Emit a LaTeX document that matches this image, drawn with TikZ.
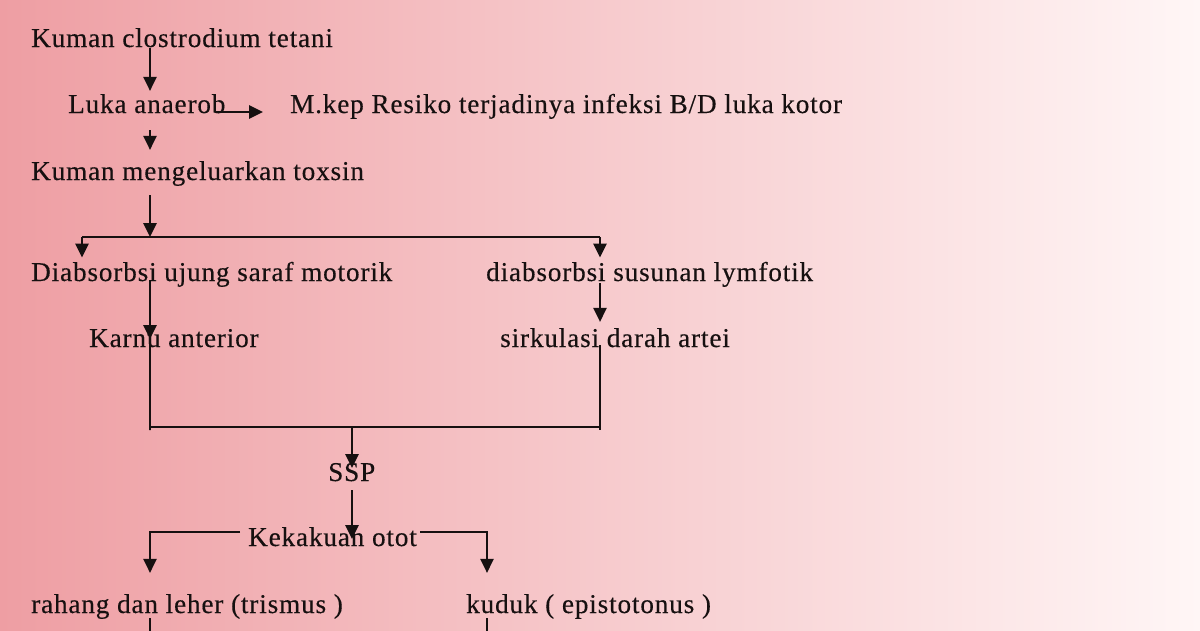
\documentclass[tikz,border=0pt]{standalone}
\usepackage{fontspec}
\setmainfont[LetterSpace=3.1,FakeBold=0.3]{Liberation Serif}
\usetikzlibrary{arrows.meta,calc}
\definecolor{bgL}{RGB}{238,158,163}
\definecolor{bgM}{RGB}{245,195,198}
\definecolor{bgR}{RGB}{255,246,246}
\definecolor{ink}{RGB}{22,16,16}
\begin{document}
\begin{tikzpicture}[x=1pt,y=-1pt,
  lbl/.style={anchor=base west, inner sep=0pt, font=\fontsize{27.2}{32}\selectfont, text=ink},
  arr/.style={draw=ink, line width=2.6pt, -{Triangle[length=14pt,width=13pt]}},
  thickline/.style={draw=ink, line width=2.6pt},
  thinline/.style={draw=ink, line width=1.5pt}]
\useasboundingbox (0,0) rectangle (1200,630);
\shade[left color=bgL, middle color=bgM, right color=bgR] (0,0) rectangle (1200,630);

% texts
\node[lbl] (k1)    at (31,47)   {Kuman clostrodium tetani};
\node[lbl] (luka)  at (68,113)  {Luka anaerob};
\node[lbl] (mkep)  at (290,113) {M.kep Resiko terjadinya infeksi B/D luka kotor};
\node[lbl] (k2)    at (31,180)  {Kuman mengeluarkan toxsin};
\node[lbl] (dab)   at (31,281)  {Diabsorbsi ujung saraf motorik};
\node[lbl] (dsus)  at (486,281) {diabsorbsi susunan lymfotik};
\node[lbl] (karnu) at (89,347)  {Karnu anterior};
\node[lbl] (sirk)  at (500,347) {sirkulasi darah artei};
\node[lbl] (ssp)   at (328,481) {SSP};
\node[lbl] (kek)   at (248,546) {Kekakuan otot};
\node[lbl] (rah)   at (31,613)  {rahang dan leher (trismus )};
\node[lbl] (kud)   at (466,613) {kuduk ( epistotonus )};

% junction coordinates
\coordinate (xa) at (150,0);
\coordinate (xe) at (487,0);
\coordinate (h1) at (216,112);
\coordinate (j1) at (150,237);
\coordinate (jl) at (82,237);
\coordinate (jr) at (600,237);
\coordinate (bl) at (150,427);
\coordinate (bm) at (352,427);
\coordinate (br) at (600,427);
\coordinate (el) at (240,532);
\coordinate (er) at (420,532);
\coordinate (endl) at (150,632);
\coordinate (endr) at (487,632);

% connectors
\draw[arr] ($(k1.base -| xa)+(0,1)$) -- ($(luka.north -| xa)+(0,-3)$);
\draw[arr] (h1) -- ($(mkep.base west)+(-27,-1)$);
\draw[arr] ($(luka.base -| xa)+(0,17)$) -- ($(k2.north -| xa)+(0,-11)$);
\draw[arr] ($(k2.base -| xa)+(0,15)$) -- (j1);
\draw[thinline] (jl) -- (jr);
\draw[arr] (jl) -- ($(dab.north -| jl)+(0,-4)$);
\draw[arr] (jr) -- ($(dsus.north -| jr)+(0,-4)$);

\draw[arr] ($(dab.base -| xa)+(0,-1)$) -- ($(karnu.base -| xa)+(0,-8)$);
\draw[arr] ($(dsus.base -| jr)+(0,2)$) -- ($(sirk.north -| jr)+(0,-6)$);
\draw[thinline] ($(karnu.base -| xa)+(0,-8)$) -- ($(bl)+(0,3)$) -- (bl) -- (br) -- ($(br)+(0,3)$);
\draw[thinline] ($(sirk.base -| br)+(0,-2)$) -- (br);

\draw[arr] (bm) -- ($(ssp.base -| bm)+(0,-13)$);
\draw[arr] ($(ssp.base -| bm)+(0,9)$) -- ($(kek.base -| bm)+(0,-7)$);
\draw[arr] (el) -| ($(rah.north -| xa)+(0,-21)$);
\draw[arr] (er) -| ($(kud.north -| xe)+(0,-21)$);

\draw[thickline] ($(rah.base -| xa)+(0,5)$) -- (endl);
\draw[thickline] ($(kud.base -| xe)+(0,5)$) -- (endr);
\end{tikzpicture}
\end{document}
